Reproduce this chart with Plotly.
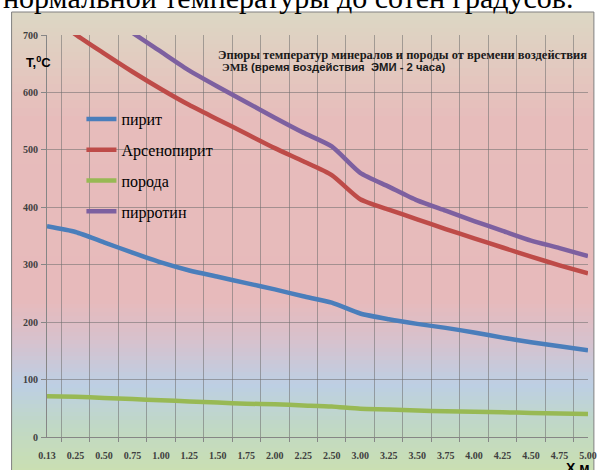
import plotly.graph_objects as go

# ---------------- data ----------------
categories = ["0.13", "0.25", "0.50", "0.75", "1.00", "1.25", "1.50", "1.75", "2.00", "2.25",
              "2.50", "3.00", "3.25", "3.50", "3.75", "4.00", "4.25", "4.50", "4.75", "5.00"]
pirit = [367, 357, 339, 321, 304, 290, 279, 268, 257, 245, 234, 215, 205, 197, 190, 182, 173, 165, 158, 151]
arsenopirit = [740, 701, 668, 636, 606, 578, 553, 528, 503, 480, 456, 414, 396, 379, 362, 346, 330, 314, 299, 285]
poroda = [71, 70, 68, 66, 64, 62, 60, 58, 57, 55, 53, 49, 48, 46, 45, 44, 43, 42, 41, 40]
pirrotin = [810, 775, 740, 704, 671, 638, 610, 583, 556, 530, 506, 460, 436, 412, 394, 376, 359, 342, 329, 315]
y_ticks = [0, 100, 200, 300, 400, 500, 600, 700]

series_names = ["пирит", "Арсенопирит", "порода", "пирротин"]
series_values = [pirit, arsenopirit, poroda, pirrotin]
series_colors = ["#4a7ebb", "#be4b48", "#98b954", "#7d60a0"]

SERIF = "Liberation Serif, Times New Roman, serif"
SANS = "Liberation Sans, Arial, sans-serif"

# ---------------- geometry helpers ----------------
W, H = 598, 470
L, R, T, B = 47, 1, 35, 33
PW, PH = W - L - R, H - T - B


def px2x(px):
    return (px - L) / PW


def px2y(py):
    return (H - B - py) / PH


def hex2rgb(h):
    h = h.lstrip("#")
    return tuple(int(h[i:i + 2], 16) for i in (0, 2, 4))


stops = [(12, "#dcd8c4"), (60, "#e2cbc0"), (120, "#e7bcbb"), (300, "#e7babb"),
         (340, "#d7c1cd"), (385, "#bdcfe4"), (425, "#c0d8c6"), (470, "#cadfb2")]


def color_at(py):
    for (y0, c0), (y1, c1) in zip(stops[:-1], stops[1:]):
        if y0 <= py <= y1:
            t = (py - y0) / (y1 - y0)
            a, b = hex2rgb(c0), hex2rgb(c1)
            return "rgb(%d,%d,%d)" % tuple(round(a[i] + (b[i] - a[i]) * t) for i in range(3))
    return stops[-1][1] if py > stops[-1][0] else stops[0][1]


fig = go.Figure()

for name, vals, col in zip(series_names, series_values, series_colors):
    fig.add_trace(go.Scatter(
        x=categories, y=vals, name=name, mode="lines",
        line=dict(color=col, width=4.5, shape="spline", smoothing=0.6),
        legendgroup=name,
    ))

shapes = []
# gradient background inside the chart frame
frame_left, frame_top = 11, 12
step = 4
py = frame_top
while py < H + 5:
    shapes.append(dict(type="rect", xref="paper", yref="paper", layer="below",
                       x0=px2x(frame_left), x1=px2x(W + 5),
                       y0=px2y(py), y1=px2y(py + step + 0.6),
                       fillcolor=color_at(py + step / 2), line=dict(width=0)))
    py += step
# frame
shapes.append(dict(type="rect", xref="paper", yref="paper", layer="below",
                   x0=px2x(frame_left), x1=px2x(W + 5), y0=px2y(frame_top), y1=px2y(H + 5),
                   fillcolor="rgba(0,0,0,0)", line=dict(color="#808080", width=1)))

annotations = [
    dict(text="нормальной температуры до сотен градусов.", xref="paper", yref="paper",
         x=px2x(0), y=px2y(-2), xanchor="left", yanchor="middle", showarrow=False,
         font=dict(family=SERIF, size=30, color="#000000")),
    dict(text="T,<sup>0</sup>C", xref="paper", yref="paper", x=px2x(24), y=px2y(62),
         xanchor="left", yanchor="middle", showarrow=False,
         font=dict(family=SANS, size=13, color="#000000", weight="bold")),
    dict(text="X м", xref="paper", yref="paper", x=px2x(573), y=px2y(458),
         xanchor="left", yanchor="top", showarrow=False,
         font=dict(family=SANS, size=14, color="#000000", weight="bold")),
    dict(text="Эпюры температур минералов и породы от времени воздействия", xref="paper", yref="paper",
         x=px2x(219), y=px2y(55), xanchor="left", yanchor="middle", showarrow=False,
         font=dict(family=SERIF, size=12.5, color="#1a1a1a", weight="bold")),
    dict(text="ЭМВ<span style='font-family:Liberation Sans, Arial, sans-serif'> (время воздействия\u00a0 ЭМИ - 2 часа)</span>",
         xref="paper", yref="paper",
         x=px2x(223), y=px2y(67), xanchor="left", yanchor="middle", showarrow=False,
         font=dict(family=SERIF, size=11.3, color="#1a1a1a", weight="bold")),
]

fig.update_layout(
    width=W, height=H,
    margin=dict(l=L, r=R, t=T, b=B, pad=0),
    paper_bgcolor="#ffffff",
    plot_bgcolor="rgba(0,0,0,0)",
    shapes=shapes,
    annotations=annotations,
    showlegend=True,
    legend=dict(x=px2x(82), y=px2y(102), xanchor="left", yanchor="top",
                bgcolor="rgba(0,0,0,0)", tracegroupgap=7,
                font=dict(family=SERIF, size=16, color="#000000")),
    xaxis=dict(type="category", categoryorder="array", categoryarray=categories,
               tickson="boundaries", showgrid=True, gridcolor="rgba(110,110,110,0.55)", gridwidth=1,
               showline=True, linecolor="#868686", linewidth=1,
               ticks="outside", ticklen=4, tickcolor="#868686",
               ticklabelstandoff=9,
               tickfont=dict(family=SERIF, size=10, color="#404040", weight="bold"),
               zeroline=False),
    yaxis=dict(range=[0, 700], tickvals=y_ticks, showgrid=True,
               gridcolor="rgba(110,110,110,0.55)", gridwidth=1,
               showline=True, linecolor="#868686", linewidth=1,
               ticks="outside", ticklen=5, tickcolor="#868686",
               ticklabelstandoff=1,
               tickfont=dict(family=SERIF, size=10, color="#404040", weight="bold"),
               zeroline=False),
)

fig.write_html("out.html", config={"displayModeBar": False},
               post_script="document.body.style.margin='0px';document.body.style.overflow='hidden';")
